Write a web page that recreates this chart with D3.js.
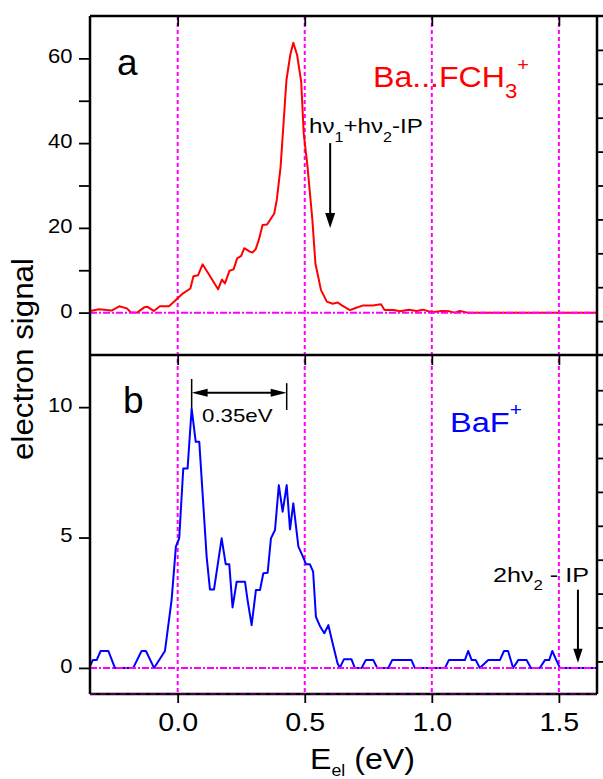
<!DOCTYPE html>
<html>
<head>
<meta charset="utf-8">
<script src="https://cdn.jsdelivr.net/npm/d3@7"></script>
<style>
  html, body { margin: 0; padding: 0; background: #fff; }
  svg { display: block; font-family: "Liberation Sans", Arial, sans-serif; }
</style>
</head>
<body>
<svg id="chart" width="603" height="779"></svg>
<script>
// ---- Panel a: Ba...FCH3+ photoelectron signal ----
const energyA = [-0.345,-0.31,-0.28,-0.26,-0.23,-0.20,-0.185,-0.16,-0.13,-0.12,-0.094,-0.07,-0.034,0.0,0.02,0.05,0.062,0.08,0.098,0.125,0.159,0.174,0.186,0.204,0.22,0.234,0.25,0.262,0.284,0.295,0.307,0.319,0.334,0.352,0.38,0.39,0.405,0.428,0.443,0.455,0.47,0.486,0.496,0.511,0.53,0.542,0.564,0.587,0.61,0.63,0.646,0.678,0.70,0.73,0.768,0.80,0.814,0.85,0.875,0.91,0.94,0.965,1.0,1.04,1.07,1.09,1.11,1.14,1.3,1.5,1.65];
const signalA = [0.4,0.8,0.6,0.5,1.5,1.0,0.1,0,1.3,1.4,0.4,1.5,1.5,3.4,4.5,5.7,8.6,8.8,11.4,8.8,5.5,7.8,6.9,9.9,10.2,12.8,13.4,15.2,14.4,14.2,15,17.1,20.7,20.8,23.4,26.6,34.4,54.9,60.8,63.7,60.8,54.5,42.3,34.4,21.9,11.6,5.3,2.6,2.1,2.4,1.7,0.6,1.1,1.7,1.7,2.0,0.6,0.6,0.3,0.7,0.4,0.7,0.1,0.4,0.3,0,0.4,0,0,0,0];

// ---- Panel b: BaF+ photoelectron signal ----
const energyB = [-0.348,-0.334,-0.319,-0.303,-0.273,-0.247,-0.175,-0.142,-0.125,-0.093,-0.05,-0.024,-0.007,0.006,0.022,0.039,0.055,0.071,0.085,0.114,0.127,0.143,0.173,0.189,0.203,0.216,0.232,0.265,0.275,0.291,0.308,0.324,0.337,0.354,0.367,0.383,0.398,0.413,0.429,0.442,0.455,0.475,0.492,0.505,0.52,0.533,0.544,0.56,0.577,0.593,0.61,0.629,0.638,0.654,0.684,0.697,0.724,0.74,0.77,0.785,0.829,0.844,0.92,0.933,1.052,1.067,1.13,1.143,1.157,1.173,1.189,1.222,1.268,1.284,1.30,1.32,1.34,1.373,1.39,1.425,1.445,1.462,1.474,1.49,1.504,1.65];
const signalB = [0,0.3,0.3,0.65,0.65,0,0,0.65,0.65,0,0.65,2.6,4.65,4.97,7.65,7.65,9.95,8.67,8.67,4.26,3.01,3.01,4.97,3.98,3.98,2.32,3.3,3.3,2.6,1.64,2.99,2.99,3.63,3.65,4.97,5.29,7.01,5.99,7.01,5.31,6.31,4.65,4.29,3.98,3.98,3.69,1.96,1.6,1.33,1.64,0.94,0.18,0,0.33,0.33,0,0,0.3,0.3,0,0,0.3,0.3,0,0,0.3,0.3,0.65,0.3,0.3,0,0.3,0.3,0.65,0.65,0,0.3,0.3,0,0,0.3,0.3,0.65,0.3,0,0];

// ---- Axes ----
const energyDomain = [-0.345, 1.65];
const energyTicks = [0, 0.5, 1.0, 1.5];
const signalDomainA = [-10, 70];
const signalTicksA = [0, 10, 20, 30, 40, 50, 60];
const signalLabelsA = [0, 20, 40, 60];
const signalDomainB = [-1, 12];
const signalTicksB = [0, 5, 10];
const rightTicksA = [-2, 6, 14, 22, 30, 38, 46, 54, 62];
const rightTicksB = [0.25, 1.55, 2.85, 4.15, 5.45, 6.75, 8.05, 9.35, 10.65];

// ---- Annotation positions (energy eV, signal) ----
const arrowA = { e: 0.6, from: 40, to: 20 };          // hν1+hν2-IP
const arrowB = { e: 1.575, from: 3.0, to: 0.2 };      // 2hν2 - IP
const spacing = { e1: 0.055, e2: 0.429, y: 10.55 };   // 0.35 eV bracket

const svg = d3.select("#chart");
const L = 90, R = 597, T = 16, M = 355, B = 694;
const MAGENTA = "#ff00ff";

const x  = d3.scaleLinear().domain(energyDomain).range([L, R]);
const yA = d3.scaleLinear().domain(signalDomainA).range([M, T]);
const yB = d3.scaleLinear().domain(signalDomainB).range([B, M]);

const defs = svg.append("defs");
defs.append("clipPath").attr("id", "clipA").append("rect").attr("x", L).attr("y", T).attr("width", R - L).attr("height", M - T);
defs.append("clipPath").attr("id", "clipB").append("rect").attr("x", L).attr("y", M).attr("width", R - L).attr("height", B - M);

// vertical guide lines
svg.append("g").selectAll("line").data(energyTicks).join("line")
  .attr("x1", d => x(d)).attr("x2", d => x(d))
  .attr("y1", T).attr("y2", B)
  .attr("stroke", MAGENTA).attr("stroke-width", 2)
  .attr("stroke-dasharray", "4,3");

// data traces
const lineA = d3.line().x((d, i) => x(energyA[i])).y(d => yA(d));
const lineB = d3.line().x((d, i) => x(energyB[i])).y(d => yB(d));
svg.append("path").datum(signalA).attr("d", lineA)
  .attr("clip-path", "url(#clipA)")
  .attr("fill", "none").attr("stroke", "#ff0000").attr("stroke-width", 2).attr("stroke-linejoin", "round");
svg.append("path").datum(signalB).attr("d", lineB)
  .attr("clip-path", "url(#clipB)")
  .attr("fill", "none").attr("stroke", "#0000ff").attr("stroke-width", 2).attr("stroke-linejoin", "round");

// zero baselines (dash-dot)
[[yA, 0], [yB, 0]].forEach(([ys, v]) => {
  svg.append("line")
    .attr("x1", L).attr("x2", R).attr("y1", ys(v)).attr("y2", ys(v))
    .attr("stroke", MAGENTA).attr("stroke-width", 2)
    .attr("stroke-dasharray", "7,2,2,2");
});

// frame
const frame = svg.append("g").attr("stroke", "#000").attr("stroke-width", 2.5).attr("fill", "none");
frame.append("line").attr("x1", L).attr("x2", 603).attr("y1", T).attr("y2", T);
frame.append("line").attr("x1", L).attr("x2", 603).attr("y1", M).attr("y2", M);
frame.append("line").attr("x1", L).attr("x2", R).attr("y1", B).attr("y2", B);
frame.append("line").attr("x1", L).attr("x2", L).attr("y1", T).attr("y2", B);
frame.append("line").attr("x1", R).attr("x2", R).attr("y1", T).attr("y2", B);
svg.append("line").attr("x1", L).attr("x2", R).attr("y1", B).attr("y2", B)
  .attr("stroke", MAGENTA).attr("stroke-width", 1).attr("stroke-opacity", 0.55)
  .attr("stroke-dasharray", "6,4");

function styleAxis(g, fontSize) {
  g.select(".domain").remove();
  g.selectAll(".tick line").attr("stroke", "#000").attr("stroke-width", 1.8);
  g.selectAll(".tick text").attr("fill", "#000")
    .style("font-family", '"Liberation Sans", Arial, sans-serif')
    .style("font-size", fontSize + "px");
}

// left axes
const leftA = svg.append("g").attr("transform", `translate(${L},0)`)
  .call(d3.axisLeft(yA).tickValues(signalTicksA).tickSize(11).tickPadding(5)
    .tickFormat(d => signalLabelsA.includes(d) ? d : ""));
styleAxis(leftA, 20);
const leftB = svg.append("g").attr("transform", `translate(${L},0)`)
  .call(d3.axisLeft(yB).tickValues(signalTicksB).tickSize(11).tickPadding(5));
styleAxis(leftB, 20);
[leftA, leftB].forEach(g => g.selectAll(".tick text").attr("dy", "0.22em").attr("transform", "scale(1.1,1)"));

// right axes (ticks only)
const rightA = svg.append("g").attr("transform", `translate(${R},0)`)
  .call(d3.axisRight(yA).tickValues(rightTicksA).tickSize(6).tickFormat(() => ""));
styleAxis(rightA, 10);
const rightB = svg.append("g").attr("transform", `translate(${R},0)`)
  .call(d3.axisRight(yB).tickValues(rightTicksB).tickSize(6).tickFormat(() => ""));
styleAxis(rightB, 10);

// top and middle tick rows (pointing down), bottom labelled axis
const topAx = svg.append("g").attr("transform", `translate(0,${T})`)
  .call(d3.axisBottom(x).tickValues(energyTicks).tickSize(10).tickFormat(() => ""));
styleAxis(topAx, 10);
const midAx = svg.append("g").attr("transform", `translate(0,${M})`)
  .call(d3.axisBottom(x).tickValues(energyTicks).tickSize(10).tickFormat(() => ""));
styleAxis(midAx, 10);
const botAx = svg.append("g").attr("transform", `translate(0,${B})`)
  .call(d3.axisBottom(x).tickValues(energyTicks).tickSize(9).tickPadding(10).tickFormat(d3.format(".1f")));
styleAxis(botAx, 26);
botAx.selectAll(".tick text").attr("transform", "scale(1.1,1)");

// text helper: draws text at (px,py) and stretches it to a target width
function fitText(px, py, width, build, rotate) {
  const g = svg.append("g");
  const t = g.append("text");
  build(t);
  const w = t.node().getBBox().width;
  const s = width / w;
  g.attr("transform", `translate(${px},${py})${rotate ? " rotate(-90)" : ""} scale(${s},1)`);
  return g;
}

// panel letters
svg.append("text").attr("x", 117).attr("y", 75).attr("font-size", 37).text("a");
svg.append("text").attr("x", 123).attr("y", 413).attr("font-size", 37).text("b");

// species labels
fitText(373, 87, 156, t => {
  t.attr("fill", "#ff0000").attr("font-size", 29);
  t.append("tspan").text("Ba...FCH");
  t.append("tspan").attr("font-size", 20).attr("dy", 11).text("3");
  t.append("tspan").attr("font-size", 18).attr("dy", -27).text("+");
});
fitText(450, 432, 72, t => {
  t.attr("fill", "#0000ff").attr("font-size", 28);
  t.append("tspan").text("BaF");
  t.append("tspan").attr("font-size", 18).attr("dy", -16).text("+");
});

// photon energy annotations
fitText(309, 133, 114, t => {
  t.attr("fill", "#000").attr("font-size", 21);
  t.append("tspan").text("hν");
  t.append("tspan").attr("font-size", 14).attr("dy", 9).text("1");
  t.append("tspan").attr("dy", -9).text("+hν");
  t.append("tspan").attr("font-size", 14).attr("dy", 9).text("2");
  t.append("tspan").attr("dy", -9).text("-IP");
});
fitText(493, 582, 96, t => {
  t.attr("fill", "#000").attr("font-size", 21);
  t.append("tspan").text("2hν");
  t.append("tspan").attr("font-size", 14).attr("dy", 8).text("2");
  t.append("tspan").attr("dy", -8).text(" - IP");
});

// vertical arrows
function downArrow(xs, ys, a, head, half) {
  const px = xs(a.e), y1 = ys(a.from), y2 = ys(a.to);
  svg.append("line").attr("x1", px).attr("x2", px).attr("y1", y1).attr("y2", y2 - head + 1)
    .attr("stroke", "#000").attr("stroke-width", 2);
  svg.append("path").attr("d", `M${px - half},${y2 - head}L${px + half},${y2 - head}L${px},${y2}Z`).attr("fill", "#000");
}
downArrow(x, yA, arrowA, 15, 5);
downArrow(x, yB, arrowB, 14, 4.7);

// 0.35 eV spacing bracket
{
  const x1 = x(spacing.e1), x2 = x(spacing.e2), yy = yB(spacing.y);
  const g = svg.append("g").attr("stroke", "#000").attr("stroke-width", 1.5);
  g.append("line").attr("x1", x1).attr("x2", x1).attr("y1", yB(11.08)).attr("y2", yB(9.97));
  g.append("line").attr("x1", x2).attr("x2", x2).attr("y1", yB(10.92)).attr("y2", yB(9.89));
  g.append("line").attr("x1", x1 + 10).attr("x2", x2 - 10).attr("y1", yy).attr("y2", yy).attr("stroke-width", 2);
  svg.append("path").attr("d", `M${x1},${yy}L${x1 + 16},${yy - 4}L${x1 + 16},${yy + 4}Z`).attr("fill", "#000");
  svg.append("path").attr("d", `M${x2},${yy}L${x2 - 16},${yy - 4}L${x2 - 16},${yy + 4}Z`).attr("fill", "#000");
}
fitText(202, 421.7, 71, t => { t.attr("fill", "#000").attr("font-size", 19).text("0.35eV"); });

// axis titles
fitText(33, 359, 202, t => {
  t.attr("fill", "#000").attr("font-size", 29).attr("text-anchor", "middle").text("electron signal");
}, true);
fitText(310, 769, 105, t => {
  t.attr("fill", "#000").attr("font-size", 29);
  t.append("tspan").text("E");
  t.append("tspan").attr("font-size", 16).attr("dy", 7).text("el");
  t.append("tspan").attr("dy", -7).text(" (eV)");
});
</script>
</body>
</html>
